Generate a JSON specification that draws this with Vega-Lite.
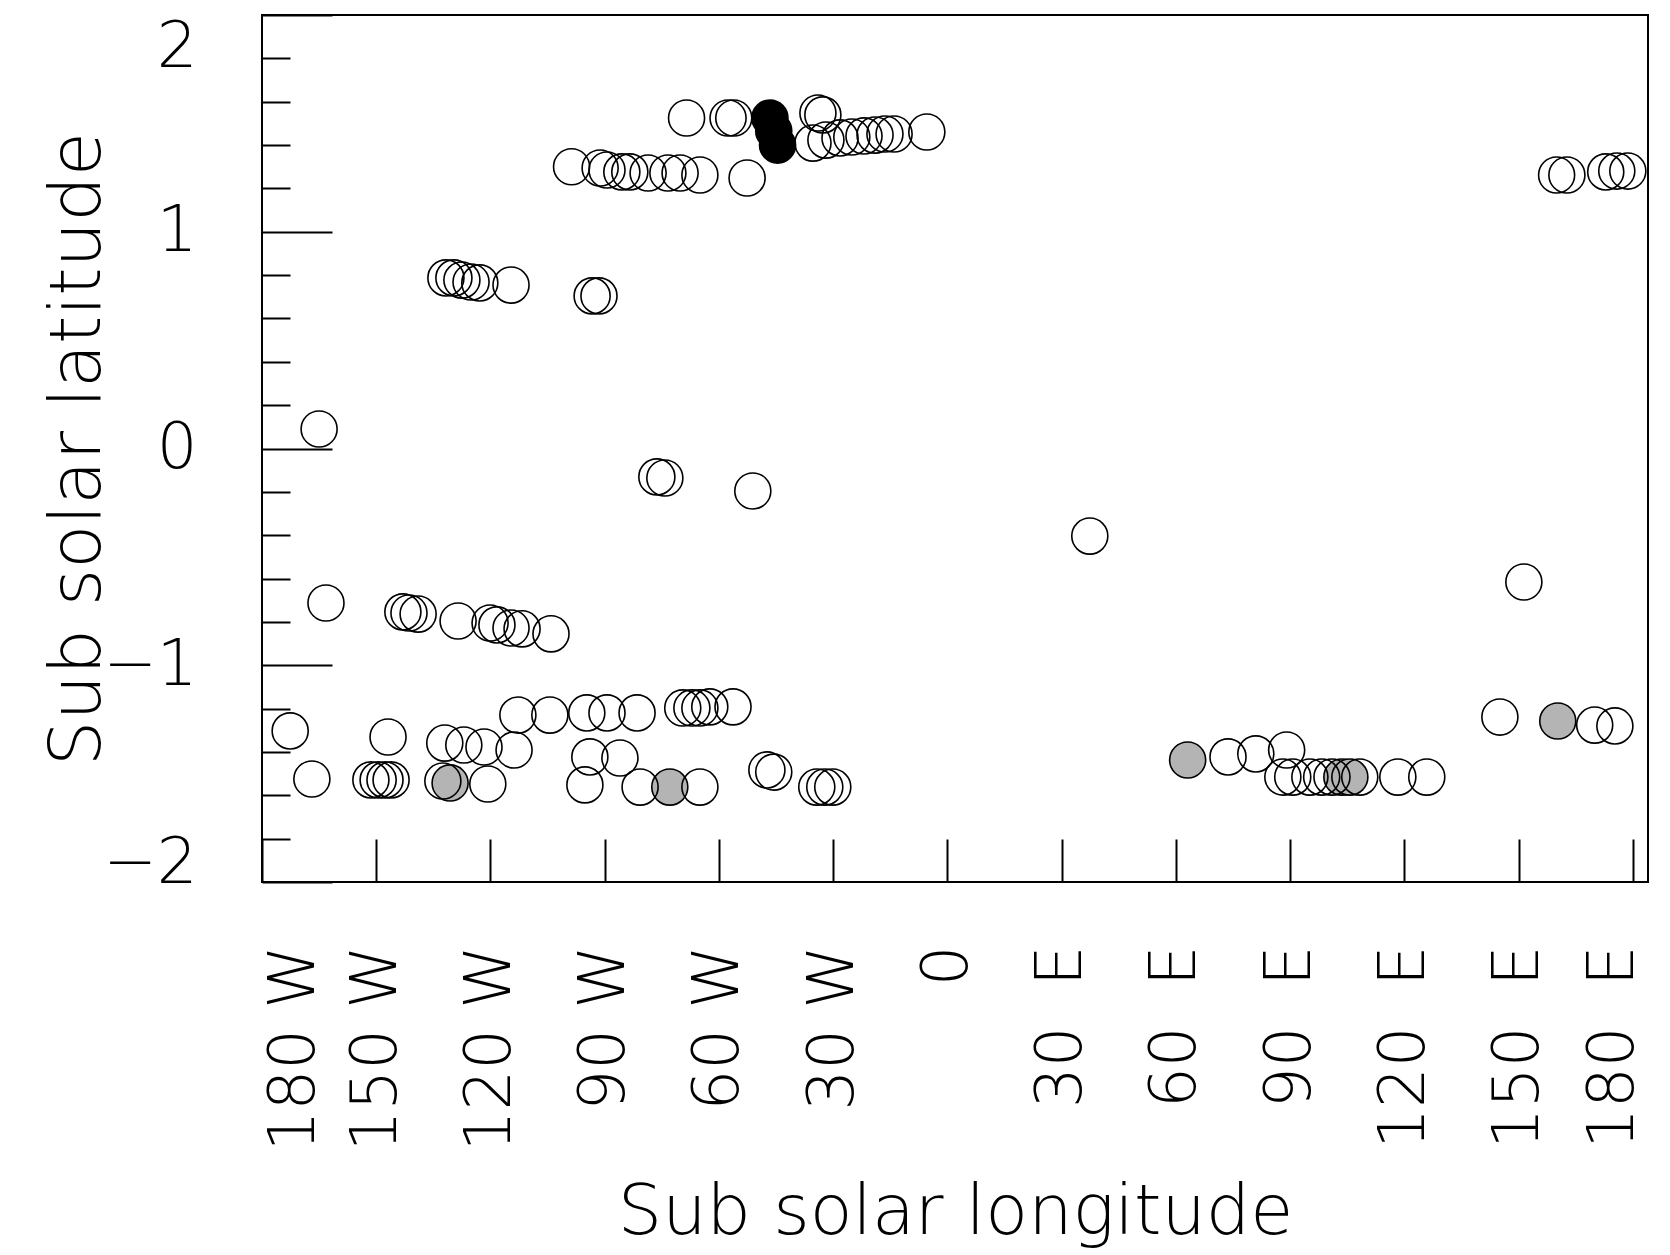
{
  "$schema": "https://vega.github.io/schema/vega-lite/v6.json",
  "width": 1386,
  "height": 867,
  "autosize": "none",
  "padding": {"left": 262, "top": 15, "right": 22, "bottom": 373},
  "background": "white",
  "config": {
    "view": {"stroke": "black", "strokeWidth": 2},
    "font": "DejaVu Sans"
  },
  "data": {"values": [
    {"lon": 160.0, "lat": 1.262, "type": "open"},
    {"lon": 162.7, "lat": 1.262, "type": "open"},
    {"lon": 172.9, "lat": 1.276, "type": "open"},
    {"lon": 175.8, "lat": 1.280, "type": "open"},
    {"lon": 178.7, "lat": 1.280, "type": "open"},
    {"lon": -68.5, "lat": 1.525, "type": "open"},
    {"lon": -57.6, "lat": 1.525, "type": "open"},
    {"lon": -56.1, "lat": 1.525, "type": "open"},
    {"lon": -34.0, "lat": 1.548, "type": "open"},
    {"lon": -32.7, "lat": 1.539, "type": "open"},
    {"lon": -46.6, "lat": 1.525, "type": "black"},
    {"lon": -45.6, "lat": 1.465, "type": "black"},
    {"lon": -44.6, "lat": 1.400, "type": "black"},
    {"lon": -35.3, "lat": 1.409, "type": "open"},
    {"lon": -31.9, "lat": 1.423, "type": "open"},
    {"lon": -28.2, "lat": 1.433, "type": "open"},
    {"lon": -25.1, "lat": 1.437, "type": "open"},
    {"lon": -21.9, "lat": 1.442, "type": "open"},
    {"lon": -19.0, "lat": 1.446, "type": "open"},
    {"lon": -16.4, "lat": 1.451, "type": "open"},
    {"lon": -14.0, "lat": 1.451, "type": "open"},
    {"lon": -5.4, "lat": 1.460, "type": "open"},
    {"lon": -98.7, "lat": 1.300, "type": "open"},
    {"lon": -91.2, "lat": 1.294, "type": "open"},
    {"lon": -89.4, "lat": 1.285, "type": "open"},
    {"lon": -85.5, "lat": 1.276, "type": "open"},
    {"lon": -83.4, "lat": 1.276, "type": "open"},
    {"lon": -78.6, "lat": 1.271, "type": "open"},
    {"lon": -73.4, "lat": 1.271, "type": "open"},
    {"lon": -70.2, "lat": 1.271, "type": "open"},
    {"lon": -65.0, "lat": 1.262, "type": "open"},
    {"lon": -52.6, "lat": 1.248, "type": "open"},
    {"lon": -131.7, "lat": 0.787, "type": "open"},
    {"lon": -129.6, "lat": 0.787, "type": "open"},
    {"lon": -127.5, "lat": 0.777, "type": "open"},
    {"lon": -125.1, "lat": 0.768, "type": "open"},
    {"lon": -122.8, "lat": 0.764, "type": "open"},
    {"lon": -114.6, "lat": 0.754, "type": "open"},
    {"lon": -93.3, "lat": 0.704, "type": "open"},
    {"lon": -91.5, "lat": 0.704, "type": "open"},
    {"lon": -165.0, "lat": 0.090, "type": "open"},
    {"lon": -76.3, "lat": -0.131, "type": "open"},
    {"lon": -74.2, "lat": -0.136, "type": "open"},
    {"lon": -51.1, "lat": -0.196, "type": "open"},
    {"lon": 37.4, "lat": -0.404, "type": "open"},
    {"lon": 151.4, "lat": -0.616, "type": "open"},
    {"lon": -163.2, "lat": -0.713, "type": "open"},
    {"lon": -143.0, "lat": -0.754, "type": "open"},
    {"lon": -141.4, "lat": -0.759, "type": "open"},
    {"lon": -139.0, "lat": -0.764, "type": "open"},
    {"lon": -128.5, "lat": -0.796, "type": "open"},
    {"lon": -120.1, "lat": -0.805, "type": "open"},
    {"lon": -118.3, "lat": -0.814, "type": "open"},
    {"lon": -114.6, "lat": -0.828, "type": "open"},
    {"lon": -111.7, "lat": -0.832, "type": "open"},
    {"lon": -104.1, "lat": -0.855, "type": "open"},
    {"lon": -172.6, "lat": -1.303, "type": "open"},
    {"lon": -166.9, "lat": -1.525, "type": "open"},
    {"lon": -146.9, "lat": -1.331, "type": "open"},
    {"lon": -151.4, "lat": -1.529, "type": "open"},
    {"lon": -149.5, "lat": -1.529, "type": "open"},
    {"lon": -147.7, "lat": -1.529, "type": "open"},
    {"lon": -146.1, "lat": -1.529, "type": "open"},
    {"lon": -130.6, "lat": -1.543, "type": "gray"},
    {"lon": -132.5, "lat": -1.534, "type": "open"},
    {"lon": -120.7, "lat": -1.548, "type": "open"},
    {"lon": -132.0, "lat": -1.359, "type": "open"},
    {"lon": -127.0, "lat": -1.368, "type": "open"},
    {"lon": -121.7, "lat": -1.377, "type": "open"},
    {"lon": -113.8, "lat": -1.391, "type": "open"},
    {"lon": -112.8, "lat": -1.230, "type": "open"},
    {"lon": -104.4, "lat": -1.230, "type": "open"},
    {"lon": -94.7, "lat": -1.220, "type": "open"},
    {"lon": -89.4, "lat": -1.220, "type": "open"},
    {"lon": -81.5, "lat": -1.220, "type": "open"},
    {"lon": -69.5, "lat": -1.197, "type": "open"},
    {"lon": -67.1, "lat": -1.197, "type": "open"},
    {"lon": -65.0, "lat": -1.197, "type": "open"},
    {"lon": -62.4, "lat": -1.192, "type": "open"},
    {"lon": -56.3, "lat": -1.192, "type": "open"},
    {"lon": -93.9, "lat": -1.423, "type": "open"},
    {"lon": -86.0, "lat": -1.428, "type": "open"},
    {"lon": -95.2, "lat": -1.552, "type": "open"},
    {"lon": -80.7, "lat": -1.562, "type": "open"},
    {"lon": -72.9, "lat": -1.562, "type": "gray"},
    {"lon": -65.0, "lat": -1.562, "type": "open"},
    {"lon": -47.4, "lat": -1.483, "type": "open"},
    {"lon": -45.6, "lat": -1.493, "type": "open"},
    {"lon": -34.3, "lat": -1.562, "type": "open"},
    {"lon": -32.2, "lat": -1.562, "type": "open"},
    {"lon": -30.1, "lat": -1.562, "type": "open"},
    {"lon": 63.1, "lat": -1.437, "type": "gray"},
    {"lon": 73.7, "lat": -1.423, "type": "open"},
    {"lon": 81.0, "lat": -1.409, "type": "open"},
    {"lon": 89.1, "lat": -1.391, "type": "open"},
    {"lon": 88.1, "lat": -1.516, "type": "open"},
    {"lon": 90.7, "lat": -1.516, "type": "open"},
    {"lon": 95.2, "lat": -1.516, "type": "open"},
    {"lon": 98.3, "lat": -1.516, "type": "open"},
    {"lon": 101.0, "lat": -1.516, "type": "open"},
    {"lon": 103.6, "lat": -1.516, "type": "gray"},
    {"lon": 105.7, "lat": -1.516, "type": "gray"},
    {"lon": 108.3, "lat": -1.516, "type": "open"},
    {"lon": 118.3, "lat": -1.516, "type": "open"},
    {"lon": 125.9, "lat": -1.516, "type": "open"},
    {"lon": 145.1, "lat": -1.239, "type": "open"},
    {"lon": 160.3, "lat": -1.257, "type": "gray"},
    {"lon": 170.0, "lat": -1.276, "type": "open"},
    {"lon": 175.3, "lat": -1.280, "type": "open"}
  ]},
  "resolve": {"axis": {"x": "independent", "y": "independent"}},
  "layer": [
    {
      "transform": [{"filter": "datum.type != 'open'"}],
      "mark": {"type": "point", "shape": "circle", "filled": true, "size": 1300, "stroke": "black", "strokeWidth": 1.6, "opacity": 1},
      "encoding": {
        "x": {"field": "lon", "type": "quantitative",
          "scale": {"domain": [-180, 184], "nice": false, "zero": false},
          "axis": {
            "values": [-180, -150, -120, -90, -60, -30, 0, 30, 60, 90, 120, 150, 180],
            "labelExpr": "datum.value < 0 ? (-datum.value) + ' W' : (datum.value > 0 ? datum.value + ' \u2008E' : '0')",
            "labelAngle": 270,
            "labelAlign": "right",
            "labelBaseline": {"condition": [{"test": "datum.value == -180", "value": "top"}, {"test": "datum.value == 180", "value": "alphabetic"}], "value": "middle"},
            "labelFlush": false,
            "labelOverlap": false,
            "labelBound": false,
            "labelLimit": 0,
            "labelFont": "DejaVu Sans",
            "labelFontWeight": 200,
            "labelFontSize": 64,
            "labelColor": "black",
            "labelPadding": 106,
            "tickSize": -43,
            "tickWidth": 2,
            "tickColor": "black",
            "domain": false,
            "grid": false,
            "title": "Sub solar longitude",
            "titleFont": "DejaVu Sans",
            "titleFontWeight": 200,
            "titleFontSize": 70,
            "titleColor": "black",
            "titlePadding": 96
          }
        },
        "y": {"field": "lat", "type": "quantitative",
          "scale": {"domain": [-2, 2], "nice": false, "zero": false},
          "axis": {
            "orient": "left",
            "values": [-1.8, -1.6, -1.4, -1.2, -0.8, -0.6, -0.4, -0.2, 0.2, 0.4, 0.6, 0.8, 1.2, 1.4, 1.6, 1.8],
            "labels": false,
            "tickSize": -28,
            "tickWidth": 2,
            "tickColor": "black",
            "domain": false,
            "grid": false,
            "title": null
          }
        },
        "fill": {"field": "type", "type": "nominal", "scale": {"domain": ["black", "gray"], "range": ["#000000", "#b4b4b4"]}, "legend": null}
      }
    },
    {
      "transform": [{"filter": "datum.type == 'open'"}],
      "mark": {"type": "point", "shape": "circle", "filled": false, "size": 1300, "stroke": "black", "strokeWidth": 1.6, "opacity": 1},
      "encoding": {
        "x": {"field": "lon", "type": "quantitative", "axis": null},
        "y": {"field": "lat", "type": "quantitative",
          "axis": {
            "orient": "left",
            "values": [-2, -1, 0, 1, 2],
            "labelExpr": "datum.value < 0 ? '\u2212' + (-datum.value) : '' + datum.value",
            "labelBaseline": {"condition": [{"test": "datum.value == 2", "value": "top"}, {"test": "datum.value == -2", "value": "alphabetic"}], "value": "middle"},
            "labelFlush": false,
            "labelOverlap": false,
            "labelBound": false,
            "labelFont": "DejaVu Sans",
            "labelFontWeight": 200,
            "labelFontSize": 64,
            "labelColor": "black",
            "labelPadding": 135,
            "tickSize": -70,
            "tickWidth": 2,
            "tickColor": "black",
            "domain": false,
            "grid": false,
            "title": "Sub solar latitude",
            "titleFont": "DejaVu Sans",
            "titleFontWeight": 200,
            "titleFontSize": 72,
            "titleColor": "black",
            "titlePadding": -12
          }
        }
      }
    }
  ]
}
